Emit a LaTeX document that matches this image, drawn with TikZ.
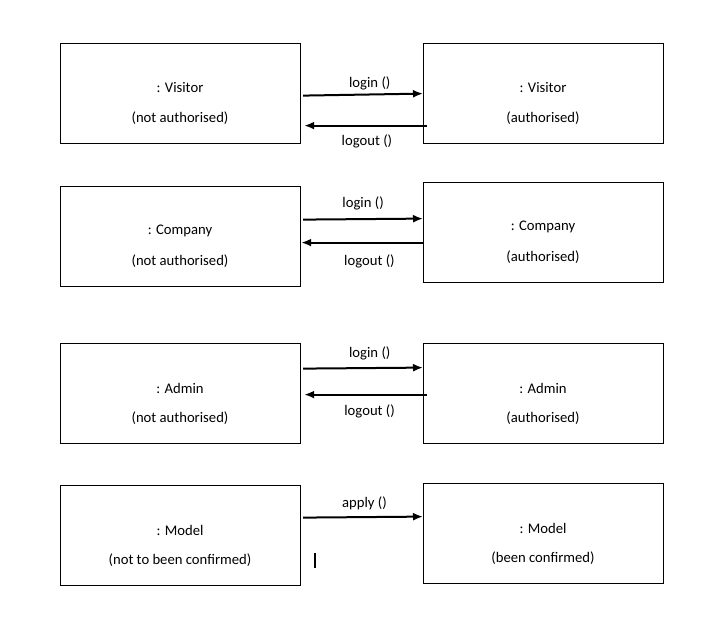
\documentclass[tikz,border=0pt]{standalone}
\usepackage{fontspec}
\setmainfont{Carlito}
\usetikzlibrary{arrows.meta}
\begin{document}
\begin{tikzpicture}[x=0.75pt,y=-0.75pt,
  box/.style={draw=black,line width=0.9pt,minimum width=180pt,minimum height=75pt,inner sep=0pt,anchor=north west},
  txt/.style={font=\fontsize{11}{13}\selectfont,inner sep=0pt},
  msg/.style={line width=1.5pt,-{Latex[length=7.5pt,width=6pt]}}]
\useasboundingbox (0,0) rectangle (716,636);
% row 1
\node[box] (v1) at (60,43) {};
\node[box] (v2) at (423,43) {};
\node[txt] (v1a) at (180,88) {: Visitor};
\node[txt] (v1b) at (180,118) {(not authorised)};
\node[txt] (v2a) at (543,88) {: Visitor};
\node[txt] (v2b) at (543,118) {(authorised)};
\draw[msg] ([shift={(2,2)}]v1.east) -- (v2.west) node[txt,midway,above=3pt,xshift=5pt] (l1) {login ()};
\draw[msg] ([shift={(4,32)}]v2.west) -- ([shift={(3,32)}]v1.east) node[txt,midway,below=6.5pt,xshift=1pt] (o1) {logout ()};
% row 2
\node[box] (c1) at (60,186) {};
\node[box] (c2) at (423,182) {};
\node[txt] (c1a) at (180,231) {: Company};
\node[txt] (c1b) at (180,261) {(not authorised)};
\node[txt] (c2a) at (543,227) {: Company};
\node[txt] (c2b) at (543,257) {(authorised)};
\draw[msg] ([shift={(2,-17)}]c1.east) -- ([shift={(0,-14)}]c2.west) node[txt,midway,above=6.4pt,xshift=0pt] (l2) {login ()};
\draw[msg] ([shift={(0,10)}]c2.west) -- ([shift={(0,6)}]c1.east) node[txt,midway,below=8.5pt,xshift=5.5pt] (o2) {logout ()};
% row 3
\node[box] (a1) at (60,343) {};
\node[box] (a2) at (423,343) {};
\node[txt] (a1a) at (180,388) {: Admin};
\node[txt] (a1b) at (180,418) {(not authorised)};
\node[txt] (a2a) at (543,388) {: Admin};
\node[txt] (a2b) at (543,418) {(authorised)};
\draw[msg] ([shift={(2,-25)}]a1.east) -- ([shift={(0,-26)}]a2.west) node[txt,midway,above=5.6pt,xshift=5pt] (l3) {login ()};
\draw[msg] ([shift={(4,1)}]a2.west) -- ([shift={(3,1)}]a1.east) node[txt,midway,below=7.2pt,xshift=3pt] (o3) {logout ()};
% row 4
\node[box] (m1) at (60,485) {};
\node[box] (m2) at (423,483) {};
\node[txt] (m1a) at (180,530) {: Model};
\node[txt] (m1b) at (180,560) {(not to been confirmed)};
\node[txt] (m2a) at (543,528) {: Model};
\node[txt] (m2b) at (543,558) {(been confirmed)};
\draw[msg] ([shift={(2,-18)}]m1.east) -- ([shift={(0,-17)}]m2.west) node[txt,midway,above=5pt,xshift=1pt] (l4) {apply ()};
% text cursor mark
\coordinate (k1) at (315,553);
\coordinate (k2) at (315,568);
\draw[line width=0.9pt] (k1) -- (k2);
\end{tikzpicture}
\end{document}
